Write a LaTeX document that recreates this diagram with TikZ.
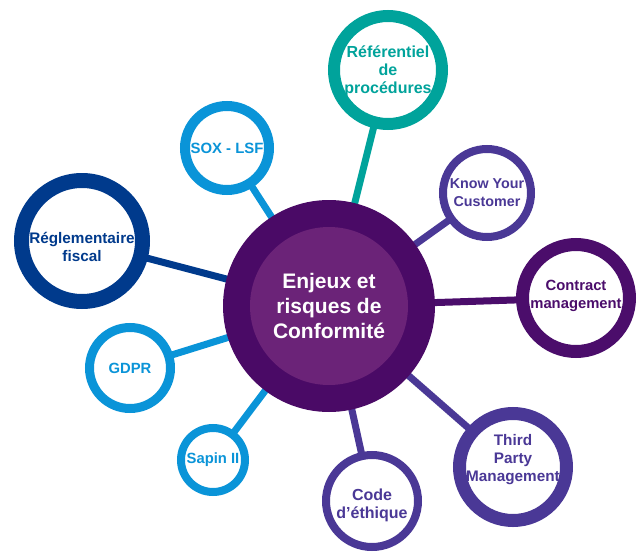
\documentclass[tikz,border=0pt]{standalone}
\usepackage{fontspec}
\setmainfont{Liberation Sans}
\usetikzlibrary{backgrounds}
\definecolor{cdark}{HTML}{4A0A66}
\definecolor{cinner}{HTML}{6B2378}
\definecolor{cteal}{HTML}{00A39B}
\definecolor{cblue}{HTML}{0A94D8}
\definecolor{cnavy}{HTML}{003A8C}
\definecolor{cindigo}{HTML}{4A3896}
\definecolor{cplum}{HTML}{4B0D6B}
\newcommand\bubfont[1]{\fontsize{#1}{18}\selectfont\bfseries}
\tikzset{
  bub/.style 2 args={circle, draw=#1, fill=white, line width=#2, inner sep=0pt, outer sep=0pt},
  lab/.style 2 args={text=#1, inner sep=0pt, align=center, font=\bubfont{#2}},
  link/.style={line width=7pt}
}
\begin{document}
\begin{tikzpicture}[x=1pt,y=-1pt]
\useasboundingbox (0,0) rectangle (641,552);
\node[circle, fill=cdark, minimum size=212pt, inner sep=0pt, outer sep=0pt] (c) at (329,306) {};
\node[circle, fill=cinner, minimum size=158pt, inner sep=0pt, text=white, align=center,
  font=\fontsize{21}{25}\selectfont\bfseries] (ci) at (329,306) {Enjeux et\\risques de\\Conformit\'e};
\node[bub={cteal}{12pt}, minimum size=108pt] (ref) at (388,70) {};
\node[bub={cblue}{10pt}, minimum size=84pt] (sox) at (227,148) {};
\node[bub={cnavy}{15pt}, minimum size=121pt] (reg) at (82,241) {};
\node[bub={cblue}{9pt}, minimum size=81pt] (gdpr) at (130,368) {};
\node[bub={cblue}{8pt}, minimum size=64pt] (sap) at (213,460) {};
\node[bub={cindigo}{8pt}, minimum size=92pt] (code) at (372,501) {};
\node[bub={cindigo}{13pt}, minimum size=107pt] (tp) at (513,467) {};
\node[bub={cplum}{13pt}, minimum size=107pt] (cm) at (576,298) {};
\node[bub={cindigo}{8pt}, minimum size=88pt] (kyc) at (487,193) {};
\node[lab={cteal}{16}] (reft) at ([yshift=-1pt]ref.center) {R\'ef\'erentiel\\de\\proc\'edures};
\node[lab={cblue}{14.9}] (soxt) at (sox.center) {SOX - LSF};
\node[lab={cnavy}{15.3}] (regt) at ([yshift=-6pt]reg.center) {R\'eglementaire\\fiscal};
\node[lab={cblue}{14.8}] (gdprt) at (gdpr.center) {GDPR};
\node[lab={cblue}{14.8}] (sapt) at (sap.center) {Sapin II};
\node[lab={cindigo}{16}] (codet) at ([yshift=-4pt]code.center) {Code\\d'\'ethique};
\node[lab={cindigo}{15.3}] (tpt) at ([yshift=7pt]tp.center) {Third\\Party\\Management};
\node[lab={cplum}{14.8}] (cmt) at ([yshift=2pt]cm.center) {Contract\\management};
\node[lab={cindigo}{14.3}] (kyct) at (kyc.center) {Know Your\\Customer};
\begin{scope}[on background layer]
\draw[link, cteal] (c.center) -- (ref.center);
\draw[link, cblue] (c.center) -- (sox.center);
\draw[link, cnavy] (c.center) -- (reg.center);
\draw[link, cblue] (c.center) -- (gdpr.center);
\draw[link, cblue] (c.center) -- (sap.center);
\draw[link, cindigo] (c.center) -- (code.center);
\draw[link, cindigo] (c.center) -- (tp.center);
\draw[link, cplum] (c.center) -- (cm.center);
\draw[link, cindigo] (c.center) -- (kyc.center);
\end{scope}
\end{tikzpicture}
\end{document}
